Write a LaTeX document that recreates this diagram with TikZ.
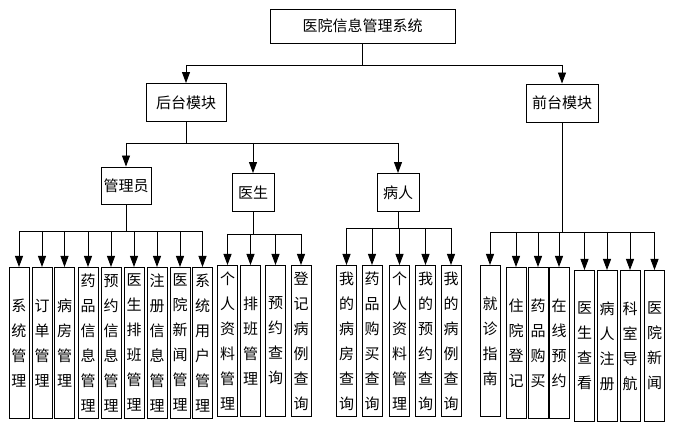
\documentclass[tikz,border=0pt]{standalone}
\usepackage{fontspec}
\setmainfont{Noto Sans CJK SC}
\usepackage{tikz}
\usetikzlibrary{arrows.meta, positioning}

\begin{document}
\begin{tikzpicture}[x=1pt, y=-1pt, line width=0.9pt,
        every node/.style={align=center, inner sep=0pt, font=\fontsize{15}{25}\selectfont},
        modbox/.style={draw, minimum height=38pt},
        leafbox/.style={draw, minimum width=20pt, minimum height=151pt, anchor=north},
        arr/.style={-{Triangle[width=8pt, length=11pt]}}]
        \useasboundingbox (0,0) rectangle (674,443);

        % system and modules
        \node (system) [modbox, minimum width=185pt, minimum height=34pt] at (362.5,26) {医院信息管理系统};
        \node (back) [modbox, minimum width=80pt] at (186,102.5) {后台模块};
        \node (front) [modbox, minimum width=72pt] at (562,103) {前台模块};
        \node (admin) [modbox, minimum width=50pt, minimum height=37pt] at (126,185.5) {管理员};
        \node (doctor) [modbox, minimum width=42pt] at (253,192.5) {医生};
        \node (patient) [modbox, minimum width=42pt] at (398,192.5) {病人};

        % admin functions
        \node (a1) [leafbox] at (19,267) {系\\统\\管\\理};
        \node (a2) [leafbox] at (42,267) {订\\单\\管\\理};
        \node (a3) [leafbox] at (64.5,267) {病\\房\\管\\理};
        \node (a4) [leafbox] at (88,267) {药\\品\\信\\息\\管\\理};
        \node (a5) [leafbox] at (111,267) {预\\约\\信\\息\\管\\理};
        \node (a6) [leafbox] at (134,267) {医\\生\\排\\班\\管\\理};
        \node (a7) [leafbox] at (157,267) {注\\册\\信\\息\\管\\理};
        \node (a8) [leafbox] at (180,267) {医\\院\\新\\闻\\管\\理};
        \node (a9) [leafbox] at (202.5,267) {系\\统\\用\\户\\管\\理};

        % doctor functions
        \node (d1) [leafbox] at (227.5,265) {个\\人\\资\\料\\管\\理};
        \node (d2) [leafbox] at (250.5,265) {排\\班\\管\\理};
        \node (d3) [leafbox] at (275.5,265) {预\\约\\查\\询};
        \node (d4) [leafbox] at (301,265) {登\\记\\病\\例\\查\\询};

        % patient functions
        \node (p1) [leafbox] at (346.5,265) {我\\的\\病\\房\\查\\询};
        \node (p2) [leafbox] at (372,265) {药\\品\\购\\买\\查\\询};
        \node (p3) [leafbox] at (399.5,265) {个\\人\\资\\料\\管\\理};
        \node (p4) [leafbox] at (425.5,265) {我\\的\\预\\约\\查\\询};
        \node (p5) [leafbox] at (451,265) {我\\的\\病\\例\\查\\询};

        % front functions
        \node (f1) [leafbox] at (490,265) {就\\诊\\指\\南};
        \node (f2) [leafbox] at (516,267) {住\\院\\登\\记};
        \node (f3) [leafbox] at (538,267) {药\\品\\购\\买};
        \node (f4) [leafbox] at (559,267) {在\\线\\预\\约};
        \node (f5) [leafbox] at (584.5,270) {医\\生\\查\\看};
        \node (f6) [leafbox] at (607,270) {病\\人\\注\\册};
        \node (f7) [leafbox] at (630,270) {科\\室\\导\\航};
        \node (f8) [leafbox] at (654.5,270) {医\\院\\新\\闻};

        % bus lines
        \coordinate (topbus) at (362.5,65);
        \coordinate (backbus) at (186,143);
        \coordinate (adminbus) at (126,231);
        \coordinate (doctorbus) at (253,234);
        \coordinate (patientbus) at (398,228);
        \coordinate (frontbus) at (562,232);

        \draw (system.south) -- (topbus);
        \draw (topbus -| back) -- (topbus -| front);
        \draw[arr] (topbus -| back) -- (back.north);
        \draw[arr] (topbus -| front) -- (front.north);

        \draw (back.south) -- (backbus);
        \draw (backbus -| admin) -- (backbus -| patient);
        \foreach \n in {admin, doctor, patient}
            \draw[arr] (backbus -| \n) -- (\n.north);

        \draw (admin.south) -- (adminbus);
        \draw (adminbus -| a1) -- (adminbus -| a9);
        \foreach \i in {1,...,9}
            \draw[arr] (adminbus -| a\i) -- (a\i.north);

        \draw (doctor.south) -- (doctorbus);
        \draw (doctorbus -| d1) -- (doctorbus -| d4);
        \foreach \i in {1,...,4}
            \draw[arr] (doctorbus -| d\i) -- (d\i.north);

        \draw (patient.south) -- (patientbus);
        \draw (patientbus -| p1) -- (patientbus -| p5);
        \foreach \i in {1,...,5}
            \draw[arr] (patientbus -| p\i) -- (p\i.north);

        \draw (front.south) -- (frontbus);
        \draw (frontbus -| f1) -- (frontbus -| f8);
        \foreach \i in {1,...,8}
            \draw[arr] (frontbus -| f\i) -- (f\i.north);
    \end{tikzpicture}
\end{document}
